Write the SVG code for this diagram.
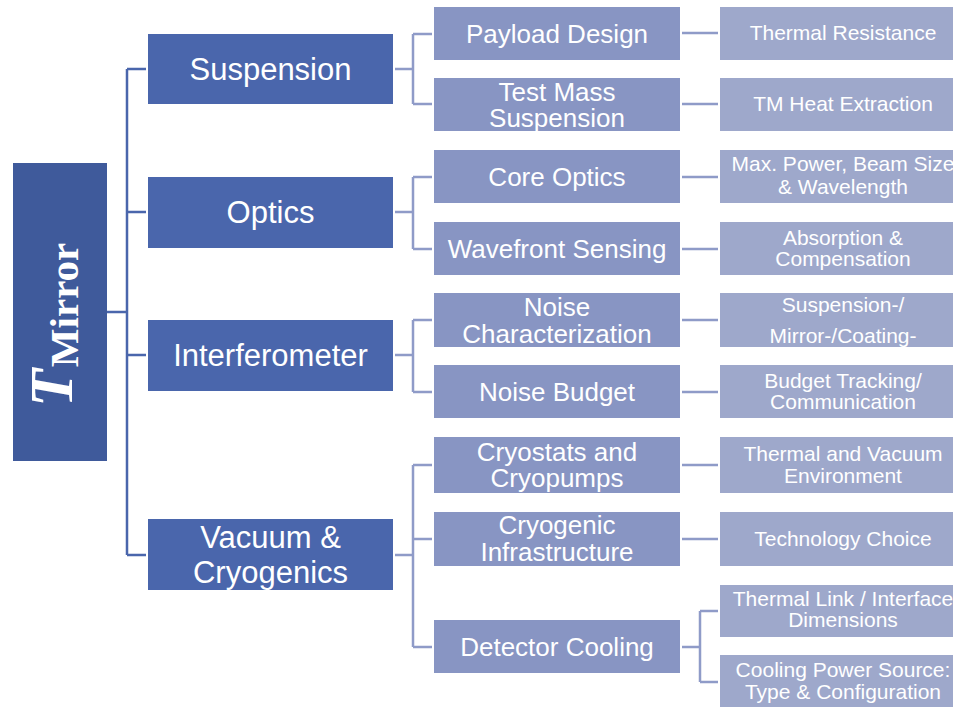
<svg xmlns="http://www.w3.org/2000/svg" width="953" height="707" viewBox="0 0 953 707">
<style>
text{font-family:"Liberation Sans",Arial,sans-serif;fill:#fff;text-anchor:middle}
.l1 rect{fill:#4A66AC}
.l1 text{font-size:31px}
.l2 rect{fill:#8895C3}
.l2 text{font-size:26px}
.l3 rect{fill:#9EA8CB}
.l3 text{font-size:21px}
.c0{fill:none;stroke:#4A66AC;stroke-width:2.5}
.c1{fill:none;stroke:#8F9BC8;stroke-width:2.5}
</style>
<rect width="953" height="707" fill="#fff"/>
<g id="connectors">
<path class="c0" d="M107 312H127M127 69V555M127 69H146M127 212H146M127 355H146M127 555H146"/>
<path class="c1" d="M395 69H413M413 34V104M413 34H432M413 104H432"/>
<path class="c1" d="M395 212H413M413 177V249M413 177H432M413 249H432"/>
<path class="c1" d="M395 355H413M413 320V392M413 320H432M413 392H432"/>
<path class="c1" d="M395 555H413M413 465V647M413 465H432M413 539H432M413 647H432"/>
<path class="c1" d="M682 33H718M682 104H718M682 177H718M682 249H718M682 320H718M682 392H718M682 465H718M682 539H718"/>
<path class="c1" d="M682 647H700M700 611V682M700 611H718M700 682H718"/>
</g>
<g id="root">
<rect x="13" y="163" width="94" height="298" fill="#3F5A9B"/>
<text transform="translate(72,407) rotate(-90)" style="text-anchor:start;font-family:'Liberation Serif','Times New Roman',serif;font-weight:bold"><tspan font-style="italic" font-size="62">T</tspan><tspan font-size="41" dy="6" dx="2">Mirror</tspan></text>
</g>
<g id="suspension" class="l1"><rect x="148" y="34" width="245" height="70"/><text x="270.5" y="80">Suspension</text></g>
<g id="optics" class="l1"><rect x="148" y="177" width="245" height="71"/><text x="270.5" y="223">Optics</text></g>
<g id="interferometer" class="l1"><rect x="148" y="320" width="245" height="71"/><text x="270.5" y="366">Interferometer</text></g>
<g id="vacuum" class="l1"><rect x="148" y="519" width="245" height="71"/><text x="270.5" y="548">Vacuum &amp;</text><text x="270.5" y="583">Cryogenics</text></g>

<g id="payload" class="l2"><rect x="434" y="7" width="246" height="53"/><text x="557" y="43">Payload Design</text></g>
<g id="testmass" class="l2"><rect x="434" y="78" width="246" height="53"/><text x="557" y="101">Test Mass</text><text x="557" y="127">Suspension</text></g>
<g id="coreoptics" class="l2"><rect x="434" y="150" width="246" height="53"/><text x="557" y="186">Core Optics</text></g>
<g id="wavefront" class="l2"><rect x="434" y="222" width="246" height="53"/><text x="557" y="258">Wavefront Sensing</text></g>
<g id="noisechar" class="l2"><rect x="434" y="293" width="246" height="54"/><text x="557" y="316">Noise</text><text x="557" y="343">Characterization</text></g>
<g id="noisebudget" class="l2"><rect x="434" y="365" width="246" height="53"/><text x="557" y="401">Noise Budget</text></g>
<g id="cryostats" class="l2"><rect x="434" y="437" width="246" height="56"/><text x="557" y="461">Cryostats and</text><text x="557" y="487">Cryopumps</text></g>
<g id="cryoinfra" class="l2"><rect x="434" y="512" width="246" height="54"/><text x="557" y="534">Cryogenic</text><text x="557" y="561">Infrastructure</text></g>
<g id="detcooling" class="l2"><rect x="434" y="620" width="246" height="53"/><text x="557" y="656">Detector Cooling</text></g>

<g id="thermalres" class="l3"><rect x="720" y="7" width="246" height="53"/><text x="843" y="40">Thermal Resistance</text></g>
<g id="tmheat" class="l3"><rect x="720" y="78" width="246" height="53"/><text x="843" y="111">TM Heat Extraction</text></g>
<g id="maxpower" class="l3"><rect x="720" y="150" width="246" height="53"/><text x="843" y="171">Max. Power, Beam Size</text><text x="843" y="194">&amp; Wavelength</text></g>
<g id="absorption" class="l3"><rect x="720" y="222" width="246" height="53"/><text x="843" y="245">Absorption &amp;</text><text x="843" y="266">Compensation</text></g>
<g id="susmirror" class="l3"><rect x="720" y="293" width="246" height="54"/><text x="843" y="312">Suspension-/</text><text x="843" y="343">Mirror-/Coating-</text></g>
<g id="budgettrack" class="l3"><rect x="720" y="365" width="246" height="53"/><text x="843" y="388">Budget Tracking/</text><text x="843" y="409">Communication</text></g>
<g id="thermvac" class="l3"><rect x="720" y="437" width="246" height="56"/><text x="843" y="461">Thermal and Vacuum</text><text x="843" y="483">Environment</text></g>
<g id="techchoice" class="l3"><rect x="720" y="512" width="246" height="54"/><text x="843" y="546">Technology Choice</text></g>
<g id="thermlink" class="l3"><rect x="720" y="585" width="246" height="52"/><text x="843" y="606">Thermal Link / Interface</text><text x="843" y="627">Dimensions</text></g>
<g id="coolpower" class="l3"><rect x="720" y="655" width="246" height="52"/><text x="843" y="677">Cooling Power Source:</text><text x="843" y="699">Type &amp; Configuration</text></g>
</svg>
